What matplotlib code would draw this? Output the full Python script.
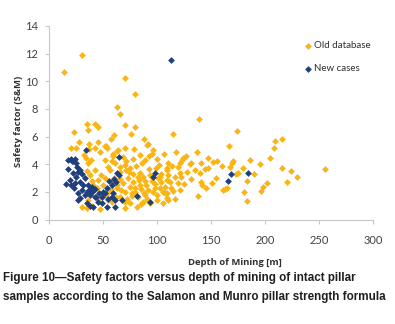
import matplotlib
matplotlib.use("Agg")
import matplotlib.pyplot as plt

# old database: depth of mining [m], safety factor (S&M)
old_depth = [13.6, 30.3, 70.4, 79.9, 63.0, 65.4, 139.0,
             35.2, 42.9, 70.4, 79.6, 36.4, 45.6, 23.1, 114.5, 174.4,
             20.1, 37.3, 45.1, 51.9, 54.0, 64.2, 90.7, 78.4, 70.4, 62.6, 37.0, 137.5, 167.0, 209.3, 208.3, 216.0, 92.0, 52.8,
             59.0, 34.3, 51.9, 95.1, 93.0, 59.0, 68.8, 78.2, 106.5, 122.8, 124.4, 146.9, 204.3, 110.5, 102.0,
             36.4, 61.1, 70.4, 121.3, 131.5, 140.7, 152.2, 155.2, 170.7, 169.1, 195.4, 130.2,
             54.9, 56.5, 34.9, 75.0, 93.0, 108.9, 65.7, 84.3, 102.8, 113.6, 119.8, 144.4, 146.9, 139.8, 108.9, 110.5,
             121.3, 122.2, 167.6, 179.3, 173.1, 175.3, 215.4, 224.1, 255.6, 38.0, 86.7,
             51.9, 45.7, 58.0, 41.0, 44.1, 54.9, 83.6, 108.9, 73.4, 78.0, 68.8, 75.0, 79.6, 70.4, 62.6, 96.6, 102.8,
             112.0, 107.4, 119.8, 140.7, 141.3, 150.6, 121.3, 115.1, 161.4, 183.0, 201.5, 163.0, 165.1, 198.4, 196.8,
             180.5, 220.1,
             48.8, 36.4, 58.0, 30.2, 34.9, 47.2, 76.5, 65.7, 82.7, 88.9, 107.4, 99.7, 93.5, 87.3, 75.0, 70.4, 81.2,
             105.9, 110.5, 108.9, 108.9, 138.3, 116.7, 183.6,
             85, 90, 95, 88, 92, 98, 100, 104, 66, 72, 77, 80, 84, 60, 63, 67, 74, 81, 86, 57, 50, 48, 43, 40,
             94, 99, 104, 113, 117, 125, 128, 132, 135, 127, 118, 100, 96, 89, 84, 71, 66, 58, 47, 43, 39, 32,
             28, 25, 57, 60, 88, 76, 98, 91, 85, 70, 62, 55, 53, 45, 40, 82, 71, 78, 89, 101, 106, 145, 155,
             160, 186, 190, 230]
old_sf = [10.7, 11.9, 10.25, 9.07, 8.17, 7.6, 7.3,
          6.9, 6.9, 6.8, 6.7, 6.5, 6.7, 6.35, 6.2, 6.4,
          5.2, 5.47, 5.57, 5.3, 5.16, 5.0, 5.42, 5.08, 5.16, 4.99, 5.11, 4.85, 5.3, 5.7, 5.2, 5.8, 5.47, 5.28,
          4.72, 4.48, 4.31, 4.72, 4.6, 4.6, 4.5, 4.36, 4.72, 4.31, 4.43, 4.43, 4.43, 4.12, 3.93,
          4.12, 4.12, 3.95, 4.07, 4.07, 4.07, 4.19, 4.26, 4.26, 4.12, 4.0, 4.0,
          3.83, 3.59, 3.54, 3.71, 3.64, 3.71, 3.47, 3.35, 3.1, 3.88, 3.83, 3.64, 3.71, 3.35, 3.59, 3.23,
          3.35, 3.1, 3.78, 3.71, 3.3, 3.35, 3.71, 3.54, 3.64, 3.23, 3.06,
          2.98, 2.86, 2.74, 2.5, 2.26, 2.02, 2.86, 2.86, 2.99, 2.74, 2.62, 2.38, 2.26, 2.02, 2.26, 2.02, 2.26,
          2.74, 2.38, 2.62, 2.74, 2.5, 2.62, 2.14, 2.09, 2.14, 2.82, 2.62, 2.19, 2.26, 2.38, 2.09,
          2.02, 2.72,
          1.78, 1.42, 1.3, 0.88, 0.81, 0.74, 1.9, 1.66, 1.66, 1.78, 1.9, 1.42, 1.18, 1.3, 1.18, 0.81, 0.88,
          1.18, 1.42, 1.9, 1.54, 1.7, 1.49, 1.34,
          2.2, 2.5, 2.8, 1.9, 2.1, 2.6, 1.8, 2.7, 2.9, 1.5, 1.7, 2.0, 2.5, 3.0, 2.5, 2.1, 3.4, 3.9, 4.1, 2.2, 2.5, 3.2, 3.6, 2.8,
          3.2, 3.7, 3.3, 2.3, 3.1, 2.6, 3.4, 2.9, 3.6, 4.6, 4.9, 4.4, 5.0, 4.3, 4.7, 4.2, 3.8, 4.2, 4.9, 5.2, 4.3, 4.7,
          5.6, 5.2, 5.8, 6.1, 5.8, 6.2, 2.3, 1.5, 1.1, 1.3, 1.6, 1.4, 1.8, 1.5, 1.0, 3.1, 3.6, 3.3, 2.8, 3.0, 2.0, 2.3, 3.0,
          3.9, 4.3, 3.3, 3.1]

# new cases
new_depth = [112.7, 34.3, 65.1, 20.1, 22.5, 25.0, 21.0, 17.9, 22.5, 27.2, 24.7, 19.4, 28.7, 31.8, 24.1, 36.4,
             39.5, 30.2, 34.9, 38.0, 28.7, 42.6, 26.5, 45.7, 41.0, 48.8, 53.4, 58.0, 51.9, 63.3, 65.1, 98.1,
             96.6, 81.2, 59.6, 58.0, 67.3, 61.1, 93.5, 61.1, 168.2, 184.5, 166.0,
             16, 20, 23, 26, 29, 33, 37, 40, 43, 46, 35, 38, 44, 50, 54, 56, 60, 62, 55, 49, 33, 31, 18, 24, 27]
new_sf = [11.5, 5.0, 4.53, 4.36, 4.2, 4.1, 4.26, 3.64, 3.35, 3.4, 3.1, 2.86, 2.74, 2.5, 2.62, 2.5,
          2.38, 2.14, 2.02, 1.78, 1.54, 1.66, 1.42, 1.3, 0.93, 1.18, 0.93, 1.66, 1.9, 3.35, 3.23, 3.35,
          3.1, 1.7, 1.9, 2.5, 1.42, 1.42, 1.3, 0.93, 3.3, 3.39, 2.79,
          2.6, 2.5, 2.3, 3.8, 3.6, 3.0, 2.1, 2.0, 2.2, 1.9, 1.2, 1.0, 1.6, 2.0, 2.3, 2.8, 2.9, 2.7, 1.5, 1.6, 1.8, 3.3, 4.3, 4.4, 1.9]

x_ticks = [0, 50, 100, 150, 200, 250, 300]
y_ticks = [0, 2, 4, 6, 8, 10, 12, 14]

fig = plt.figure(figsize=(3.95, 3.24), dpi=100)
ax = fig.add_axes([0.124, 0.3225, 0.82, 0.5975])

ax.scatter(old_depth, old_sf, marker='D', s=12, color='#F9B514', linewidths=0, label='Old database', zorder=2)
ax.scatter(new_depth, new_sf, marker='D', s=12, color='#1F3F7F', linewidths=0, label='New cases', zorder=3)

ax.set_xlim(0, 300)
ax.set_ylim(0, 14)
ax.set_xticks(x_ticks)
ax.set_yticks(y_ticks)
for s in ['top', 'right']:
    ax.spines[s].set_visible(False)
for s in ['left', 'bottom']:
    ax.spines[s].set_color('#c8c8c8')
    ax.spines[s].set_linewidth(0.8)
ax.tick_params(length=3, width=0.8, color='#c8c8c8', labelsize=8, labelcolor='#404040')
ax.tick_params(axis='x', pad=8)
ax.tick_params(axis='y', pad=5)
for lab in ax.get_xticklabels() + ax.get_yticklabels():
    lab.set_family('Lato')

ax.set_xlabel('Depth of Mining [m]', family='Open Sans', fontsize=6.8, fontweight='bold', color='#303030')
ax.set_ylabel('Safety factor (S&M)', family='Open Sans', fontsize=6.8, fontweight='bold', color='#303030')
ax.xaxis.set_label_coords(0.573, -0.2)
ax.yaxis.set_label_coords(-0.08, 0.505)

leg = ax.legend(loc='upper left', bbox_to_anchor=(0.765, 0.965), frameon=False, handlelength=0.6,
                handletextpad=0.3, labelspacing=1.4, prop={'family': 'Lato', 'size': 7})
for t in leg.get_texts():
    t.set_color('#303030')

fig.text(0.008, 0.113, 'Figure 10\u2014Safety factors versus depth of mining of intact pillar\n'
         'samples according to the Salamon and Munro pillar strength formula',
         family='Liberation Sans', fontsize=8.4, fontweight='bold', color='#202020',
         va='center', ha='left', linespacing=1.75)

fig.savefig('out.png', dpi=100, facecolor='white')
